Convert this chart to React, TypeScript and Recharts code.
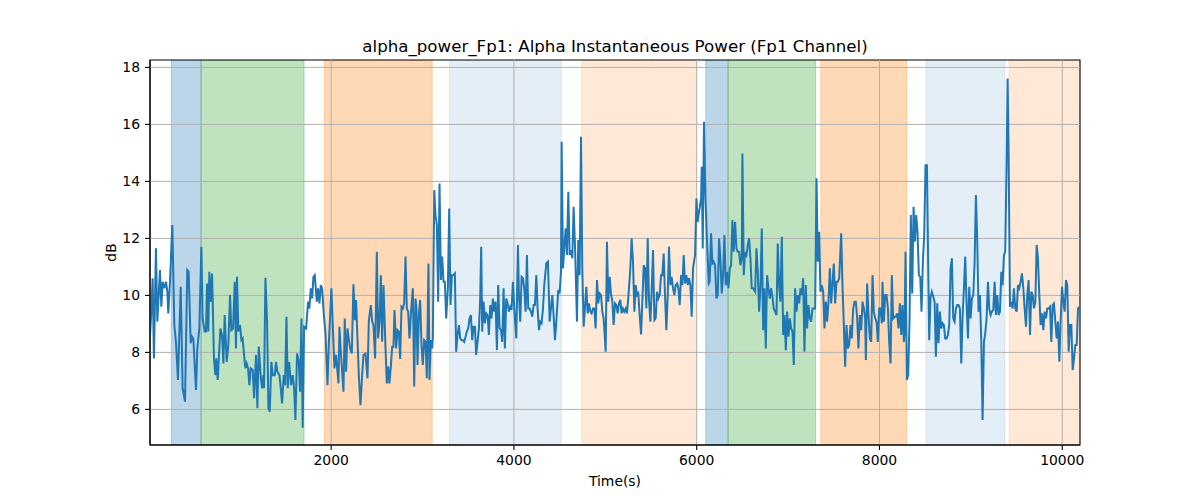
import React from 'react';
import { LineChart, Line, XAxis, YAxis, ReferenceArea, ReferenceLine } from 'recharts';

const TIME_S = [
  18, 32, 47, 61, 83, 98, 113, 127, 142, 156,
  175, 193, 208, 218, 237, 262, 284, 302, 324, 354,
  375, 401, 426, 441, 463, 478, 492, 521, 536, 558,
  580, 594, 616, 631, 642, 656, 667, 682, 697, 718,
  733, 744, 759, 788, 806, 821, 835, 857, 875, 894,
  908, 927, 945, 959, 970, 985, 1003, 1018, 1032, 1047,
  1062, 1076, 1091, 1105, 1120, 1142, 1157, 1178, 1193, 1208,
  1230, 1244, 1259, 1266, 1281, 1299, 1314, 1328, 1346, 1361,
  1383, 1397, 1412, 1434, 1449, 1463, 1481, 1496, 1511, 1525,
  1540, 1562, 1580, 1595, 1609, 1627, 1646, 1660, 1675, 1689,
  1704, 1726, 1748, 1762, 1777, 1792, 1806, 1821, 1843, 1857,
  1872, 1887, 1901, 1919, 1938, 1960, 1974, 2003, 2018, 2036,
  2054, 2080, 2091, 2106, 2120, 2135, 2149, 2164, 2179, 2193,
  2208, 2226, 2244, 2259, 2273, 2288, 2303, 2321, 2339, 2354,
  2376, 2398, 2412, 2434, 2449, 2463, 2481, 2500, 2514, 2529,
  2544, 2558, 2573, 2595, 2609, 2624, 2638, 2653, 2668, 2682,
  2693, 2711, 2726, 2741, 2755, 2770, 2784, 2799, 2814, 2828,
  2843, 2857, 2872, 2894, 2909, 2923, 2934, 2945, 2960, 2974,
  2989, 3003, 3018, 3033, 3047, 3065, 3076, 3091, 3106, 3113,
  3128, 3142, 3157, 3171, 3186, 3201, 3215, 3230, 3244, 3259,
  3277, 3292, 3306, 3321, 3339, 3354, 3368, 3383, 3398, 3412,
  3427, 3441, 3456, 3471, 3485, 3500, 3514, 3529, 3544, 3558,
  3573, 3587, 3602, 3617, 3631, 3642, 3653, 3668, 3682, 3697,
  3712, 3726, 3741, 3755, 3770, 3785, 3799, 3814, 3828, 3843,
  3858, 3872, 3887, 3901, 3916, 3931, 3945, 3960, 3974, 3989,
  4004, 4026, 4044, 4055, 4069, 4084, 4099, 4113, 4128, 4142,
  4157, 4172, 4186, 4201, 4215, 4230, 4245, 4259, 4274, 4288,
  4303, 4318, 4332, 4354, 4372, 4391, 4405, 4420, 4434, 4449,
  4464, 4485, 4500, 4515, 4522, 4537, 4551, 4566, 4580, 4595,
  4610, 4624, 4639, 4653, 4668, 4690, 4704, 4719, 4734, 4748,
  4763, 4777, 4792, 4807, 4821, 4836, 4850, 4865, 4880, 4894,
  4909, 4923, 4938, 4953, 4967, 4982, 5004, 5018, 5033, 5048,
  5062, 5077, 5091, 5106, 5121, 5135, 5150, 5164, 5179, 5194,
  5208, 5223, 5237, 5252, 5274, 5288, 5303, 5318, 5332, 5347,
  5361, 5376, 5391, 5405, 5420, 5434, 5449, 5464, 5478, 5493,
  5507, 5522, 5537, 5551, 5566, 5580, 5595, 5610, 5624, 5639,
  5653, 5668, 5683, 5697, 5712, 5726, 5741, 5756, 5770, 5785,
  5799, 5814, 5829, 5843, 5858, 5872, 5887, 5902, 5916, 5931,
  5945, 5960, 5982, 5997, 6011, 6026, 6048, 6055, 6066, 6080,
  6095, 6110, 6132, 6142, 6157, 6172, 6186, 6201, 6216, 6230,
  6245, 6259, 6274, 6289, 6303, 6318, 6332, 6347, 6362, 6376,
  6391, 6405, 6420, 6435, 6449, 6464, 6478, 6493, 6500, 6515,
  6529, 6544, 6559, 6573, 6588, 6602, 6617, 6639, 6654, 6668,
  6683, 6697, 6712, 6727, 6741, 6756, 6770, 6785, 6800, 6814,
  6829, 6843, 6858, 6873, 6887, 6902, 6916, 6931, 6946, 6960,
  6975, 6989, 7004, 7019, 7033, 7048, 7062, 7077, 7092, 7106,
  7121, 7135, 7150, 7165, 7179, 7194, 7208, 7223, 7238, 7252,
  7267, 7281, 7296, 7311, 7325, 7340, 7354, 7369, 7384, 7398,
  7413, 7427, 7442, 7457, 7471, 7486, 7500, 7515, 7530, 7544,
  7559, 7581, 7595, 7610, 7624, 7639, 7654, 7668, 7683, 7697,
  7712, 7727, 7741, 7756, 7770, 7785, 7800, 7814, 7829, 7843,
  7851, 7865, 7880, 7895, 7909, 7924, 7938, 7953, 7968, 7982,
  7997, 8011, 8026, 8033, 8048, 8062, 8077, 8092, 8106, 8121,
  8135, 8150, 8165, 8179, 8194, 8208, 8223, 8238, 8252, 8267,
  8274, 8285, 8300, 8314, 8329, 8343, 8358, 8373, 8387, 8402,
  8416, 8431, 8446, 8460, 8475, 8489, 8504, 8519, 8533, 8544,
  8559, 8573, 8588, 8603, 8617, 8632, 8646, 8661, 8676, 8690,
  8705, 8719, 8734, 8749, 8763, 8778, 8792, 8807, 8822, 8836,
  8851, 8865, 8880, 8895, 8909, 8924, 8938, 8953, 8968, 8982,
  8997, 9011, 9026, 9041, 9055, 9070, 9084, 9099, 9114, 9128,
  9143, 9157, 9172, 9187, 9201, 9216, 9230, 9245, 9260, 9274,
  9289, 9303, 9318, 9333, 9347, 9362, 9376, 9391, 9402, 9413,
  9428, 9442, 9457, 9471, 9486, 9501, 9515, 9530, 9544, 9559,
  9574, 9588, 9603, 9617, 9632, 9647, 9661, 9676, 9690, 9705,
  9720, 9734, 9749, 9763, 9778, 9793, 9807, 9822, 9836, 9851,
  9866, 9880, 9895, 9909, 9924, 9939, 9953, 9968, 9982, 9997,
  10012, 10026, 10041, 10055, 10070, 10085, 10099, 10114, 10128, 10143,
  10158, 10172, 10187,
];

const ALPHA_DB = [
  8.61, 9.43, 10.60, 7.79, 11.65, 9.08, 10.01, 10.89, 9.60, 10.48,
  10.25, 10.48, 10.13, 9.37, 10.48, 12.47, 8.96, 8.37, 7.03, 10.30,
  6.74, 6.27, 10.89, 10.83, 8.32, 8.55, 8.49, 6.68, 8.14, 8.84,
  11.71, 9.19, 8.73, 8.73, 10.42, 8.73, 10.83, 9.78, 10.77, 7.79,
  7.20, 7.79, 7.03, 8.84, 8.61, 7.61, 9.31, 7.67, 8.26, 10.01,
  8.78, 8.84, 10.48, 8.14, 10.65, 8.73, 8.96, 8.43, 8.49, 7.91,
  7.44, 7.61, 7.44, 6.85, 7.44, 7.38, 6.39, 7.91, 6.04, 8.20,
  7.15, 6.74, 7.20, 6.74, 10.62, 9.08, 6.04, 5.92, 7.67, 7.20,
  7.20, 7.67, 7.32, 7.20, 6.74, 6.21, 7.20, 6.85, 9.25, 6.74,
  7.67, 6.85, 7.20, 6.74, 5.63, 7.96, 7.67, 6.62, 9.19, 5.36,
  8.90, 8.84, 9.78, 9.54, 10.25, 9.89, 10.65, 10.71, 9.78, 10.25,
  9.72, 10.36, 10.25, 9.37, 8.67, 6.85, 8.26, 10.25, 8.96, 7.44,
  7.91, 6.91, 8.90, 8.02, 7.32, 6.62, 9.19, 7.32, 8.84, 8.49,
  8.14, 7.96, 10.39, 9.13, 9.84, 8.49, 7.20, 6.15, 7.20, 7.91,
  7.96, 7.09, 9.08, 9.66, 9.08, 8.96, 7.79, 11.53, 8.49, 9.08,
  10.71, 8.37, 10.36, 8.14, 6.91, 7.50, 6.91, 7.50, 8.20, 8.20,
  9.49, 8.14, 8.78, 8.73, 7.77, 9.60, 9.54, 9.72, 11.36, 9.54,
  9.43, 8.49, 9.31, 10.25, 6.80, 9.89, 9.54, 7.56, 9.31, 9.84,
  8.26, 7.56, 8.43, 8.37, 7.09, 11.12, 7.03, 8.43, 8.14, 8.55,
  13.70, 12.82, 12.47, 9.78, 13.93, 10.54, 11.36, 10.48, 10.48, 9.19,
  10.25, 13.05, 9.66, 10.71, 10.71, 10.77, 8.02, 8.61, 8.96, 8.49,
  8.43, 8.43, 8.37, 8.55, 8.73, 8.84, 9.19, 9.31, 8.43, 8.90,
  8.90, 7.91, 8.37, 8.84, 9.89, 11.71, 8.73, 9.78, 9.02, 9.37,
  9.31, 8.61, 9.66, 9.19, 9.89, 9.43, 9.78, 8.08, 10.36, 8.84,
  8.78, 8.37, 10.25, 8.14, 9.89, 9.72, 9.43, 9.60, 9.49, 10.48,
  9.54, 8.49, 11.77, 10.01, 9.08, 10.65, 10.60, 10.25, 9.43, 11.42,
  9.54, 9.54, 9.43, 9.25, 9.66, 9.66, 10.71, 9.54, 8.78, 9.08,
  9.02, 9.54, 10.36, 11.12, 11.18, 9.08, 9.54, 10.01, 9.31, 8.43,
  9.08, 10.19, 10.07, 10.83, 15.39, 10.95, 11.65, 12.35, 11.42, 13.64,
  11.42, 11.59, 11.30, 13.11, 11.77, 9.08, 11.94, 10.71, 15.57, 10.95,
  8.90, 9.54, 10.30, 9.37, 9.72, 9.43, 9.37, 9.54, 9.54, 8.84,
  10.54, 9.72, 10.07, 10.01, 9.43, 9.19, 8.02, 11.88, 9.78, 10.65,
  10.07, 9.78, 8.96, 9.72, 9.66, 9.37, 9.72, 9.84, 9.37, 9.54,
  9.43, 9.54, 9.37, 9.95, 10.95, 12.00, 11.18, 9.43, 10.36, 10.01,
  10.07, 9.31, 8.63, 9.78, 11.06, 10.95, 9.54, 12.00, 9.84, 9.08,
  10.13, 11.59, 9.13, 9.19, 10.13, 9.89, 10.01, 10.71, 10.71, 11.47,
  10.01, 8.78, 10.01, 11.71, 10.36, 10.65, 10.25, 10.01, 10.36, 10.42,
  10.25, 9.66, 10.71, 10.36, 11.42, 10.42, 10.71, 10.36, 10.60, 10.36,
  9.25, 10.95, 11.42, 13.40, 12.58, 12.94, 13.40, 14.51, 11.65, 16.09,
  13.52, 12.12, 10.42, 10.48, 12.18, 11.12, 11.18, 11.06, 9.89, 10.01,
  12.00, 11.30, 10.07, 10.71, 12.12, 10.36, 10.83, 10.25, 10.95, 11.06,
  12.64, 11.53, 12.58, 11.65, 11.53, 11.53, 11.06, 11.30, 14.98, 10.71,
  11.53, 11.42, 11.77, 12.00, 11.30, 10.25, 10.25, 10.13, 11.65, 10.83,
  9.43, 10.25, 12.35, 8.78, 10.25, 8.14, 10.71, 10.25, 9.89, 10.25,
  9.95, 9.54, 9.43, 9.31, 11.82, 10.36, 9.78, 12.06, 8.61, 9.31,
  8.08, 9.43, 8.55, 9.19, 8.84, 8.73, 7.56, 10.25, 9.43, 10.01,
  9.72, 10.25, 10.01, 10.60, 8.02, 10.36, 8.84, 9.66, 9.19, 9.08,
  9.54, 9.54, 9.54, 14.11, 11.18, 12.23, 10.13, 10.36, 10.13, 8.84,
  9.78, 9.08, 9.78, 10.95, 9.72, 10.42, 11.12, 9.72, 10.48, 10.48,
  10.60, 12.18, 10.36, 8.96, 7.50, 8.96, 8.14, 8.26, 8.96, 8.49,
  9.54, 9.78, 9.78, 9.19, 8.14, 9.31, 8.78, 9.78, 9.54, 9.19,
  7.73, 10.42, 9.31, 8.49, 8.37, 10.71, 9.43, 9.19, 9.08, 8.37,
  9.54, 9.54, 9.02, 10.48, 9.08, 10.01, 10.01, 9.54, 8.37, 7.61,
  10.71, 9.19, 9.25, 9.25, 9.37, 8.84, 9.72, 8.61, 9.66, 8.37,
  8.73, 11.53, 7.03, 7.20, 9.19, 12.82, 10.07, 13.11, 11.88, 12.82,
  12.23, 10.71, 10.65, 9.43, 11.18, 12.12, 14.57, 14.57, 11.06, 8.43,
  9.95, 10.13, 9.95, 9.78, 7.85, 9.72, 8.32, 9.43, 8.84, 9.02,
  8.96, 8.49, 8.49, 8.61, 8.96, 10.95, 11.30, 9.19, 9.08, 9.54,
  9.66, 9.66, 9.54, 7.61, 9.25, 10.25, 11.36, 9.72, 8.49, 10.30,
  9.19, 9.89, 10.01, 11.18, 13.52, 11.88, 9.43, 10.01, 8.37, 5.63,
  8.37, 8.67, 9.19, 10.48, 9.54, 9.31, 9.43, 9.49, 10.48, 9.31,
  10.01, 9.31, 9.43, 10.83, 10.36, 11.42, 11.53, 14.69, 17.61, 14.92,
  9.60, 9.78, 9.54, 10.25, 9.54, 9.43, 10.36, 10.25, 10.48, 10.77,
  10.25, 9.54, 8.90, 10.01, 10.54, 8.61, 10.13, 10.01, 9.54, 9.78,
  11.77, 11.30, 10.01, 8.96, 9.37, 8.78, 9.43, 9.19, 9.54, 9.54,
  9.60, 8.37, 9.66, 9.72, 9.08, 8.49, 9.08, 7.67, 9.08, 10.30,
  9.78, 9.43, 10.54, 10.36, 8.02, 8.96, 8.96, 7.38, 7.79, 8.26,
  8.26, 9.54, 9.60,
];

const X_TICKS = [2000, 4000, 6000, 8000, 10000];
const Y_TICKS = [6, 8, 10, 12, 14, 16, 18];
const X_DOMAIN: [number, number] = [18, 10194];
const Y_DOMAIN: [number, number] = [4.75, 18.26];

const SPAN_START = [251, 577, 1927, 3295, 4741, 6099, 6343, 7358, 8508, 9417];
const SPAN_END = [577, 1704, 3106, 4518, 5997, 6343, 7300, 8296, 9373, 10194];
const SPAN_COLOR = ['#1f77b4', '#2ca02c', '#ff7f0e', '#1f77b4', '#ff7f0e', '#1f77b4', '#2ca02c', '#ff7f0e', '#1f77b4', '#ff7f0e'];
const SPAN_ALPHA = [0.3, 0.3, 0.3, 0.12, 0.17, 0.3, 0.3, 0.3, 0.12, 0.17];

const TITLE = 'alpha_power_Fp1: Alpha Instantaneous Power (Fp1 Channel)';
const X_LABEL = 'Time(s)';
const Y_LABEL = 'dB';

const FONT = 'DejaVu Sans, sans-serif';

const data = TIME_S.map((t, i) => ({ t, v: ALPHA_DB[i] }));

export default function App() {
  const tickStyle = { fill: '#000', fontSize: 13.9, fontFamily: FONT };
  return (
    <div style={{ position: 'absolute', left: 0, top: 0, width: 1200, height: 500, background: '#fff' }}>
      <LineChart width={1200} height={500} data={data} margin={{ top: 60, right: 120, bottom: 0, left: 0 }}>
        <XAxis
          dataKey="t"
          type="number"
          domain={X_DOMAIN}
          ticks={X_TICKS}
          allowDataOverflow
          interval={0}
          height={55}
          tickSize={5}
          tickMargin={5}
          axisLine={{ stroke: '#000', strokeWidth: 1.1 }}
          tickLine={{ stroke: '#000', strokeWidth: 1.1 }}
          tick={tickStyle}
        />
        <YAxis
          type="number"
          domain={Y_DOMAIN}
          ticks={Y_TICKS}
          allowDataOverflow
          interval={0}
          width={150}
          tickSize={5}
          tickMargin={5}
          axisLine={{ stroke: '#000', strokeWidth: 1.1 }}
          tickLine={{ stroke: '#000', strokeWidth: 1.1 }}
          tick={tickStyle}
        />
        {SPAN_START.map((s, i) => (
          <ReferenceArea
            key={'span' + i}
            x1={s}
            x2={SPAN_END[i]}
            y1={Y_DOMAIN[0]}
            y2={Y_DOMAIN[1]}
            fill={SPAN_COLOR[i]}
            fillOpacity={SPAN_ALPHA[i]}
            stroke={SPAN_COLOR[i]}
            strokeOpacity={SPAN_ALPHA[i]}
            strokeWidth={1}
            ifOverflow="hidden"
          />
        ))}
        {X_TICKS.map((x) => (
          <ReferenceLine key={'gx' + x} x={x} stroke="#b0b0b0" strokeWidth={1} />
        ))}
        {Y_TICKS.map((y) => (
          <ReferenceLine key={'gy' + y} y={y} stroke="#b0b0b0" strokeWidth={1} />
        ))}
        <ReferenceArea
          x1={X_DOMAIN[0]}
          x2={X_DOMAIN[1]}
          y1={Y_DOMAIN[0]}
          y2={Y_DOMAIN[1]}
          fill="none"
          stroke="#000"
          strokeWidth={1.1}
          ifOverflow="visible"
        />
        <Line
          type="linear"
          dataKey="v"
          stroke="#1f77b4"
          strokeWidth={2}
          dot={false}
          activeDot={false}
          isAnimationActive={false}
        />
      </LineChart>
      <svg
        width={1200}
        height={500}
        style={{ position: 'absolute', left: 0, top: 0, pointerEvents: 'none' }}
      >
        <text x={615} y={52} textAnchor="middle" fontFamily={FONT} fontSize={16.67} fill="#000">
          {TITLE}
        </text>
        <text x={615} y={486} textAnchor="middle" fontFamily={FONT} fontSize={13.9} fill="#000">
          {X_LABEL}
        </text>
        <text
          transform="translate(116, 252.5) rotate(-90)"
          textAnchor="middle"
          fontFamily={FONT}
          fontSize={13.9}
          fill="#000"
        >
          {Y_LABEL}
        </text>
      </svg>
    </div>
  );
}
